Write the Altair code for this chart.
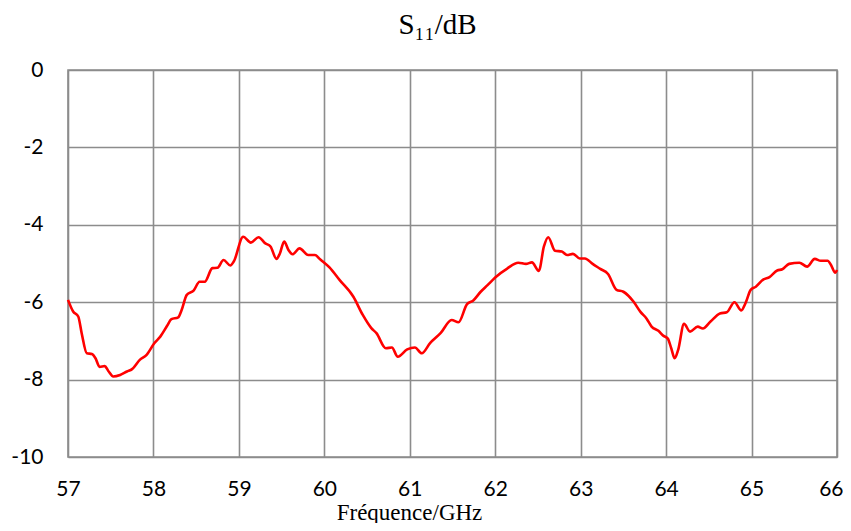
import altair as alt
import pandas as pd

freq = [57.00, 57.06, 57.12, 57.16, 57.22, 57.28, 57.32, 57.37, 57.43, 57.47,
        57.53, 57.61, 57.69, 57.75, 57.84, 57.92, 58.01, 58.08, 58.16, 58.21,
        58.29, 58.33, 58.39, 58.47, 58.54, 58.60, 58.69, 58.75, 58.82, 58.90,
        58.94, 59.05, 59.14, 59.23, 59.31, 59.37, 59.44, 59.48, 59.53, 59.58,
        59.63, 59.71, 59.81, 59.89, 59.95, 60.06, 60.18, 60.34, 60.45, 60.55,
        60.61, 60.72, 60.79, 60.86, 60.97, 61.06, 61.14, 61.24, 61.36, 61.49,
        61.57, 61.67, 61.74, 61.83, 61.91, 62.00, 62.14, 62.27, 62.36, 62.43,
        62.51, 62.57, 62.62, 62.70, 62.78, 62.84, 62.91, 62.99, 63.05, 63.14,
        63.23, 63.32, 63.42, 63.50, 63.62, 63.70, 63.77, 63.83, 63.91, 63.97,
        64.02, 64.06, 64.10, 64.14, 64.21, 64.28, 64.37, 64.43, 64.52, 64.63,
        64.71, 64.80, 64.88, 64.93, 64.99, 65.05, 65.14, 65.21, 65.30, 65.36,
        65.44, 65.56, 65.65, 65.74, 65.81, 65.89, 65.93, 65.98, 66.00]

s11 = [-5.94, -6.24, -6.37, -6.80, -7.32, -7.34, -7.44, -7.67, -7.65, -7.77,
       -7.92, -7.88, -7.79, -7.73, -7.49, -7.36, -7.06, -6.89, -6.61, -6.44,
       -6.39, -6.20, -5.81, -5.70, -5.47, -5.47, -5.12, -5.11, -4.91, -5.05,
       -4.95, -4.31, -4.46, -4.32, -4.48, -4.56, -4.88, -4.74, -4.43, -4.65,
       -4.76, -4.61, -4.78, -4.78, -4.89, -5.10, -5.43, -5.86, -6.33, -6.67,
       -6.80, -7.19, -7.17, -7.41, -7.22, -7.17, -7.32, -7.05, -6.80, -6.46,
       -6.52, -6.05, -5.96, -5.73, -5.56, -5.36, -5.13, -4.98, -5.01, -4.97,
       -5.19, -4.56, -4.32, -4.67, -4.69, -4.78, -4.75, -4.87, -4.87, -5.01,
       -5.14, -5.27, -5.68, -5.73, -5.99, -6.25, -6.42, -6.63, -6.74, -6.87,
       -6.94, -7.19, -7.45, -7.24, -6.56, -6.76, -6.63, -6.68, -6.50, -6.29,
       -6.26, -6.00, -6.21, -6.02, -5.68, -5.60, -5.41, -5.35, -5.18, -5.15,
       -5.01, -4.98, -5.08, -4.88, -4.93, -4.93, -5.04, -5.24, -5.17]

x_ticks = [57, 58, 59, 60, 61, 62, 63, 64, 65, 66]
y_ticks = [0, -2, -4, -6, -8, -10]

df = pd.DataFrame({"freq": freq, "s11": s11})

grid = "#8c8c8c"

chart = alt.Chart(df).mark_line(
    color="#ff0000", strokeWidth=2.6, interpolate="monotone"
).encode(
    x=alt.X("freq:Q",
            scale=alt.Scale(domain=[57, 66], nice=False, zero=False),
            axis=alt.Axis(values=x_ticks, title="Fréquence/GHz",
                          titleFont="Liberation Serif", titleFontSize=23,
                          titleFontWeight="normal", titleColor="#000000",
                          titleX=341, titleY=62, titleAlign="center",
                          titleBaseline="alphabetic", titleAnchor="start",
                          labelFont="Lato", labelFontSize=21, labelColor="#000000",
                          labelPadding=21, labelFlush=False, labelBound=False,
                          labelOverlap=False,
                          labelAlign={"condition": {"test": "datum.value == 66", "value": "right"},
                                      "value": "center"},
                          labelOffset={"condition": {"test": "datum.value == 66", "value": 6},
                                       "value": 0},
                          labelExpr="replace(datum.label, '\u2212', '-')",
                          ticks=False, domain=False,
                          gridColor=grid, gridWidth=1.6, gridOpacity=1)),
    y=alt.Y("s11:Q",
            scale=alt.Scale(domain=[-10, 0], nice=False, zero=False),
            axis=alt.Axis(values=y_ticks, title=None,
                          labelFont="Lato", labelFontSize=21, labelColor="#000000",
                          labelPadding=25, labelFlush=False, labelBound=False,
                          labelOverlap=False,
                          labelExpr="replace(datum.label, '\u2212', '-')",
                          ticks=False, domain=False,
                          gridColor=grid, gridWidth=1.6, gridOpacity=1)),
).properties(
    width=769,
    height=387,
    title=alt.TitleParams("S₁₁/dB", font="Liberation Serif", fontSize=29,
                          fontWeight="normal", color="#000000", offset=19,
                          anchor="middle", dx=-15),
    autosize=alt.AutoSizeParams(type="none"),
    padding={"left": 60, "top": 62, "right": 6, "bottom": 66},
).configure_view(
    stroke=grid, strokeWidth=1.6
)

chart.save("out.html", embed_options={"renderer": "svg", "actions": False})
